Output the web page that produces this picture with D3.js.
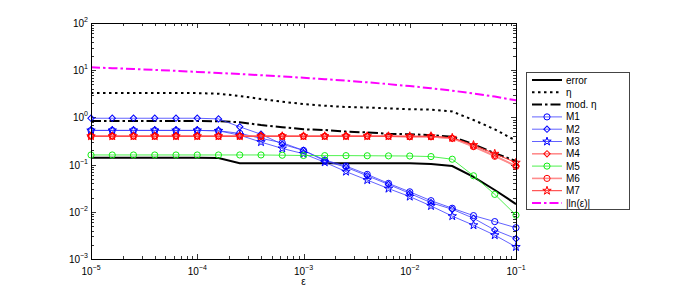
<!DOCTYPE html>
<html lang="en">
<head>
    <meta charset="UTF-8">
    <title>Error estimates</title>
    <script src="https://d3js.org/d3.v7.min.js"></script>
    <style>
        body { margin: 0; background: #fff; font-family: "Liberation Sans", Arial, sans-serif; }
        text { font-family: "Liberation Sans", Arial, sans-serif; fill: #000; }
    </style>
</head>
<body>
<div id="chart"></div>
<script>
// epsilon values (5 per decade)
const eps = [1e-5, 1.585e-5, 2.512e-5, 3.981e-5, 6.310e-5,
             1e-4, 1.585e-4, 2.512e-4, 3.981e-4, 6.310e-4,
             1e-3, 1.585e-3, 2.512e-3, 3.981e-3, 6.310e-3,
             1e-2, 1.585e-2, 2.512e-2, 3.981e-2, 6.310e-2, 1e-1];

const errorVals = [0.14, 0.14, 0.14, 0.14, 0.14, 0.14, 0.138, 0.107, 0.107, 0.107, 0.107,
                   0.107, 0.107, 0.107, 0.107, 0.107, 0.103, 0.093, 0.055, 0.029, 0.0146];
const etaVals   = [3.27, 3.27, 3.27, 3.27, 3.27, 3.27, 3.17, 2.84, 2.45, 2.15, 1.92,
                   1.77, 1.66, 1.62, 1.55, 1.49, 1.46, 1.33, 0.88, 0.56, 0.32];
const modEtaVals = [0.84, 0.84, 0.84, 0.84, 0.84, 0.84, 0.83, 0.79, 0.69, 0.62, 0.56,
                    0.54, 0.50, 0.48, 0.45, 0.44, 0.42, 0.39, 0.27, 0.174, 0.119];
const m1Vals = [0.53, 0.53, 0.53, 0.53, 0.53, 0.53, 0.52, 0.46, 0.36, 0.29, 0.20,
                0.125, 0.093, 0.062, 0.040, 0.0265, 0.0172, 0.0119, 0.0083, 0.0062, 0.0046];
const m2Vals = [0.96, 0.96, 0.96, 0.96, 0.96, 0.96, 0.93, 0.63, 0.44, 0.27, 0.20,
                0.12, 0.088, 0.058, 0.038, 0.0245, 0.0156, 0.0113, 0.0073, 0.0041, 0.0027];
const m3Vals = [0.53, 0.53, 0.53, 0.53, 0.53, 0.53, 0.52, 0.42, 0.30, 0.22, 0.17,
                0.112, 0.071, 0.047, 0.031, 0.021, 0.0133, 0.0081, 0.0052, 0.0032, 0.0018];
const m4Vals = [0.40, 0.40, 0.40, 0.40, 0.40, 0.40, 0.40, 0.40, 0.40, 0.40, 0.40,
                0.40, 0.40, 0.40, 0.40, 0.39, 0.39, 0.36, 0.245, 0.155, 0.093];
const m5Vals = [0.16, 0.16, 0.16, 0.16, 0.16, 0.16, 0.16, 0.16, 0.16, 0.158, 0.156,
                0.155, 0.155, 0.154, 0.153, 0.152, 0.148, 0.13, 0.058, 0.0234, 0.0085];
const m6Vals = [0.40, 0.40, 0.40, 0.40, 0.40, 0.40, 0.40, 0.40, 0.40, 0.40, 0.40,
                0.40, 0.40, 0.40, 0.40, 0.39, 0.39, 0.36, 0.24, 0.15, 0.092];
const m7Vals = [0.40, 0.40, 0.40, 0.40, 0.40, 0.40, 0.40, 0.40, 0.40, 0.40, 0.40,
                0.40, 0.40, 0.40, 0.40, 0.40, 0.40, 0.37, 0.26, 0.17, 0.11];
const lnVals = [11.51, 11.05, 10.59, 10.13, 9.67, 9.21, 8.75, 8.29, 7.83, 7.37, 6.91,
                6.45, 5.99, 5.53, 5.07, 4.61, 4.14, 3.68, 3.22, 2.76, 2.30];

const xTicks = [1e-5, 1e-4, 1e-3, 1e-2, 1e-1];
const yTicks = [1e-3, 1e-2, 1e-1, 1e0, 1e1, 1e2];

const series = [
    {name: "error",   vals: errorVals,  color: "#000", width: 2,   dash: null,         marker: null},
    {name: "η",       vals: etaVals,    color: "#000", width: 2,   dash: "2.5,3.5",    marker: null},
    {name: "mod. η",  vals: modEtaVals, color: "#000", width: 2,   dash: "10,3,2.5,3", marker: null},
    {name: "M1", vals: m1Vals, color: "#3a3aff", width: 0.8, dash: null, marker: "circle",  mcolor: "#0000ff"},
    {name: "M2", vals: m2Vals, color: "#3a3aff", width: 0.8, dash: null, marker: "diamond", mcolor: "#0000ff"},
    {name: "M3", vals: m3Vals, color: "#3a3aff", width: 0.8, dash: null, marker: "star",    mcolor: "#0000ff"},
    {name: "M4", vals: m4Vals, color: "#ff8c8c", width: 1.6, dash: null, marker: "diamond", mcolor: "#ff0000"},
    {name: "M5", vals: m5Vals, color: "#22ee22", width: 0.8, dash: null, marker: "circle",  mcolor: "#11ee11"},
    {name: "M6", vals: m6Vals, color: "#ff8c8c", width: 1.6, dash: null, marker: "circle",  mcolor: "#ff0000"},
    {name: "M7", vals: m7Vals, color: "#ff3030", width: 1,   dash: null, marker: "star",    mcolor: "#ff0000"},
    {name: "|ln(ε)|", vals: lnVals, color: "#ff00ff", width: 2, dash: "9,3,2.5,3", marker: null}
];

const W = 698, H = 292;
const box = {left: 91, right: 516, top: 23, bottom: 259};

const svg = d3.select("#chart").append("svg")
    .attr("width", W).attr("height", H);

const x = d3.scaleLog().domain([1e-5, 1e-1]).range([box.left, box.right]);
const y = d3.scaleLog().domain([1e-3, 1e2]).range([box.bottom, box.top]);

// minor ticks, drawn inward on all four sides
const minorX = [], minorY = [];
for (let d = -5; d < -1; d++) for (let m = 2; m < 10; m++) minorX.push(m * Math.pow(10, d));
for (let d = -3; d < 2; d++) for (let m = 2; m < 10; m++) minorY.push(m * Math.pow(10, d));

const ticks = svg.append("g").attr("stroke", "#000").attr("stroke-width", 0.8);
function tickLines(vals, len, horiz) {
    vals.forEach(v => {
        if (horiz) {
            const px = Math.round(x(v)) + 0.5;
            ticks.append("line").attr("x1", px).attr("x2", px).attr("y1", box.bottom).attr("y2", box.bottom - len);
            ticks.append("line").attr("x1", px).attr("x2", px).attr("y1", box.top).attr("y2", box.top + len);
        } else {
            const py = Math.round(y(v)) + 0.5;
            ticks.append("line").attr("y1", py).attr("y2", py).attr("x1", box.left).attr("x2", box.left + len);
            ticks.append("line").attr("y1", py).attr("y2", py).attr("x1", box.right).attr("x2", box.right - len);
        }
    });
}
tickLines(minorX, 3, true);
tickLines(xTicks, 5, true);
tickLines(minorY, 3, false);
tickLines(yTicks, 5, false);

// tick labels: 10 with superscript exponent
const expOf = v => Math.round(Math.log10(v));
const supTxt = e => (e < 0 ? "\u2212" : "") + Math.abs(e);

xTicks.forEach(v => {
    const t = svg.append("text")
        .attr("x", x(v)).attr("y", 275)
        .attr("text-anchor", "middle")
        .style("font-size", "10px");
    t.append("tspan").text("10");
    t.append("tspan").attr("dy", -5).style("font-size", "7px").text(supTxt(expOf(v)));
});

yTicks.forEach(v => {
    const t = svg.append("text")
        .attr("x", 88).attr("y", y(v) + 4)
        .attr("text-anchor", "end")
        .style("font-size", "10px");
    t.append("tspan").text("10");
    t.append("tspan").attr("dy", -5).style("font-size", "7px").text(supTxt(expOf(v)));
});

svg.append("text")
    .attr("x", (box.left + box.right) / 2).attr("y", 285)
    .attr("text-anchor", "middle")
    .style("font-size", "10px")
    .text("ε");

// series
svg.append("clipPath").attr("id", "clip")
    .append("rect").attr("x", box.left - 5).attr("y", box.top)
    .attr("width", box.right - box.left + 10).attr("height", box.bottom - box.top);

const plot = svg.append("g").attr("clip-path", "url(#clip)");
const line = d3.line().x(d => x(d[0])).y(d => y(d[1]));

// MATLAB-like markers: round circle, square-ish diamond, pentagram
const markerPath = {
    circle:  d3.symbol().type(d3.symbolCircle).size(30)(),
    diamond: d3.symbol().type(d3.symbolSquare).size(20)(),
    star:    d3.symbol().type(d3.symbolStar).size(22)()
};
const markerRot = {circle: 0, diamond: 45, star: 0};

function drawMarker(g, type, px, py, color) {
    g.append("path")
        .attr("transform", `translate(${px},${py}) rotate(${markerRot[type]})`)
        .attr("d", markerPath[type])
        .attr("fill", "none")
        .attr("stroke", color)
        .attr("stroke-width", 1);
}

series.forEach(s => {
    const pts = eps.map((e, i) => [e, s.vals[i]]);
    plot.append("path")
        .attr("d", line(pts))
        .attr("fill", "none")
        .attr("stroke", s.color)
        .attr("stroke-width", s.width)
        .attr("stroke-dasharray", s.dash);
    if (s.marker) {
        pts.forEach(d => drawMarker(plot, s.marker, x(d[0]), y(d[1]), s.mcolor));
    }
});

// axes box
svg.append("rect")
    .attr("x", box.left + 0.5).attr("y", box.top + 0.5)
    .attr("width", box.right - box.left).attr("height", box.bottom - box.top)
    .attr("fill", "none").attr("stroke", "#000").attr("stroke-width", 1);

// legend
const lg = svg.append("g");
lg.append("rect")
    .attr("x", 526.5).attr("y", 72.5).attr("width", 103).attr("height", 137)
    .attr("fill", "#fff").attr("stroke", "#444").attr("stroke-width", 1);

series.forEach((s, i) => {
    const ly = 80 + i * 12.3;
    lg.append("line")
        .attr("x1", 532).attr("x2", 562).attr("y1", ly).attr("y2", ly)
        .attr("stroke", s.color).attr("stroke-width", s.width)
        .attr("stroke-dasharray", s.dash);
    if (s.marker) drawMarker(lg, s.marker, 547, ly, s.mcolor);
    lg.append("text")
        .attr("x", 566).attr("y", ly + 3.5)
        .style("font-size", "10px")
        .text(s.name);
});
</script>
</body>
</html>
